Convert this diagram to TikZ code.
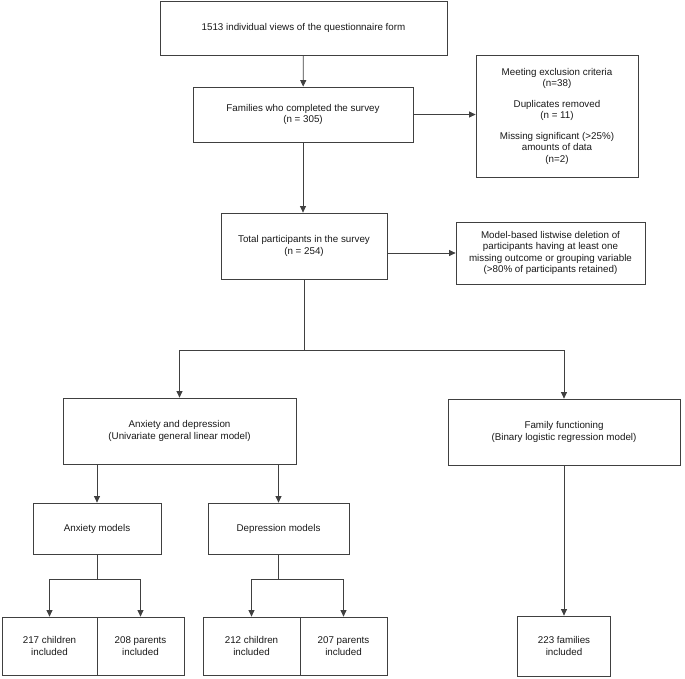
\documentclass[tikz,border=0pt]{standalone}
\usepackage{fontspec}
\setmainfont{Liberation Sans}
\usetikzlibrary{arrows.meta,positioning}

\begin{document}
\begin{tikzpicture}[
        x=1pt,y=-1pt,
        box/.style={draw=linex,line width=0.8pt,align=center,inner sep=0pt,text=txt,
            font=\fontsize{9.8}{11.5}\selectfont},
        arr/.style={draw=linex,line width=0.8pt,-{Triangle[width=6pt,length=6.5pt]}},
        ln/.style={draw=linex,line width=0.8pt}
    ]
    \colorlet{linex}{black!75}
    \colorlet{txt}{black!90}

    \useasboundingbox (0,0) rectangle (685,678);

    % upper column
    \node (views) at (303.5,28)  [box,minimum width=287pt,minimum height=54pt] {1513 individual views of the questionnaire form};
    \node (done)  at (303,114.5) [box,minimum width=220pt,minimum height=55pt] {Families who completed the survey\\(n = 305)};
    \node (excl)  at (557,116)   [box,minimum width=162pt,minimum height=122pt]
        {Meeting exclusion criteria\\(n=38)\\[9pt]Duplicates removed\\(n = 11)\\[9pt]Missing significant (>25\%)\\amounts of data\\(n=2)};
    \node (total) at (304,246)   [box,minimum width=166pt,minimum height=66pt] {Total participants in the survey\\(n = 254)};
    \node (mdl)   at (550.5,253) [box,minimum width=189pt,minimum height=62pt]
        {Model-based listwise deletion of\\participants having at least one\\missing outcome or grouping variable\\(>80\% of participants retained)};

    % analyses
    \node (anxdep) at (179.5,431) [box,minimum width=233pt,minimum height=66pt] {Anxiety and depression\\(Univariate general linear model)};
    \node (famfn)  at (564,432)   [box,minimum width=232pt,minimum height=66pt] {Family functioning\\(Binary logistic regression model)};
    \node (anxm)   at (97,528.5)  [box,minimum width=128pt,minimum height=51pt] {Anxiety models};
    \node (depm)   at (278.5,528.5) [box,minimum width=141pt,minimum height=51pt] {Depression models};

    % samples
    \begin{scope}[
        every node/.style={box,minimum height=58pt}
    ]
        \node (ac) at (49.5,646)  [minimum width=95pt] {217 children\\included};
        \node (ap) at (140.5,646) [minimum width=87pt] {208 parents\\included};
        \node (dc) at (251.5,646) [minimum width=97pt] {212 children\\included};
        \node (dp) at (343.5,646) [minimum width=87pt] {207 parents\\included};
        \node (ff) at (564,646)   [minimum width=93pt,minimum height=60pt] {223 families\\included};
    \end{scope}

    \draw [arr] (views) -- (done);
    \draw [arr] (done.east) -- (done.east -| excl.west);
    \draw [arr] (done.south) -- (done.south |- total.north);
    \draw [arr] (mdl.west -| total.east) -- (mdl.west);

    \draw [ln]  (total.south) -- ++(0,71) coordinate (split);
    \draw [arr] (split) -| (anxdep.north);
    \draw [arr] (split) -| (famfn.north);

    \draw [arr] (anxdep.south -| anxm.north) -- (anxm.north);
    \draw [arr] (anxdep.south -| depm.north) -- (depm.north);

    \draw [ln]  (anxm.south) -- ++(0,25) coordinate (asplit);
    \draw [arr] (asplit) -| (ac.north);
    \draw [arr] (asplit) -| (ap.north);
    \draw [ln]  (depm.south) -- ++(0,25) coordinate (dsplit);
    \draw [arr] (dsplit) -| (dc.north);
    \draw [arr] (dsplit) -| (dp.north);

    \draw [arr] (famfn.south) -- (ff.north);
\end{tikzpicture}
\end{document}
